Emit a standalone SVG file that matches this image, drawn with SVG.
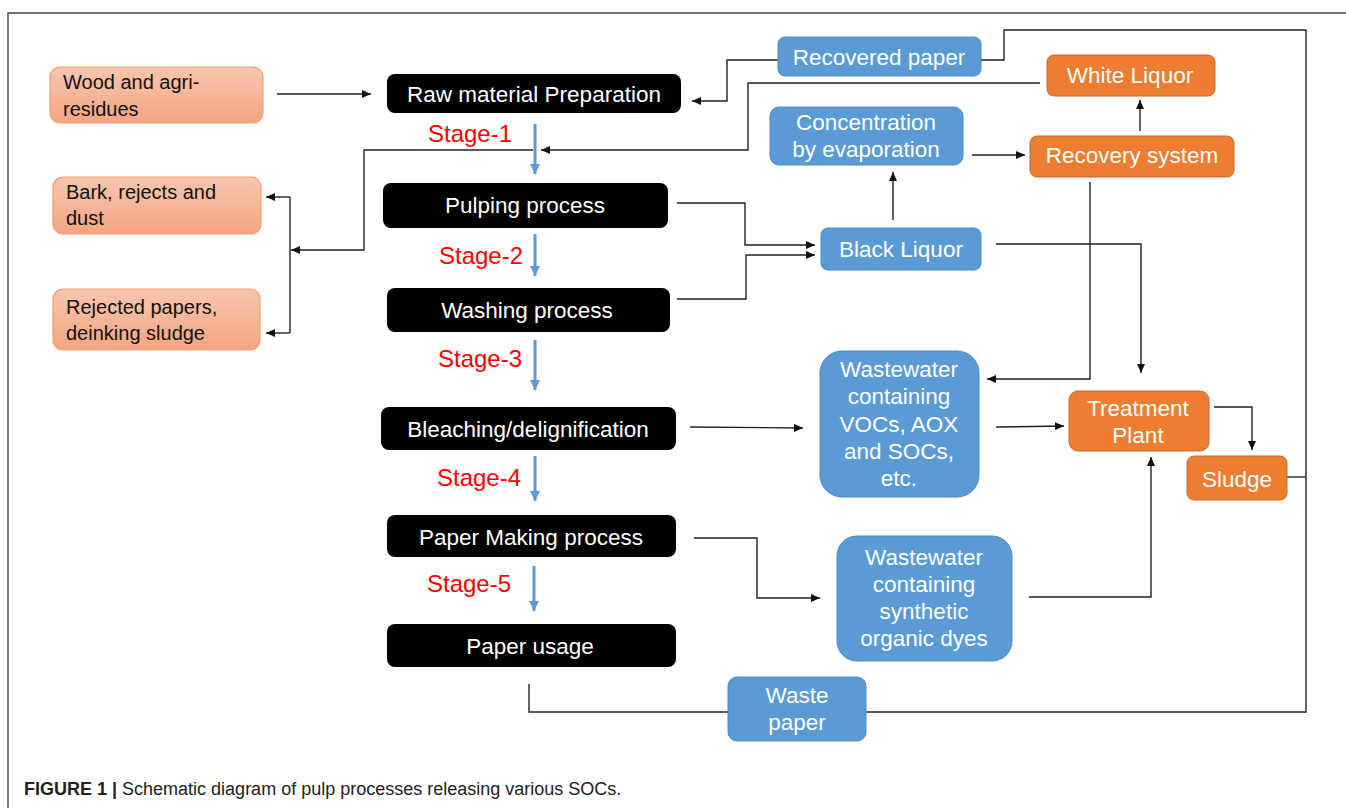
<svg xmlns="http://www.w3.org/2000/svg" width="1346" height="808" viewBox="0 0 1346 808">
<defs>
<linearGradient id="salmon" x1="0" y1="0" x2="0" y2="1">
<stop offset="0" stop-color="#f8c6ae"/>
<stop offset="1" stop-color="#f3a582"/>
</linearGradient>
<marker id="ah" markerUnits="userSpaceOnUse" markerWidth="10" markerHeight="8" refX="9" refY="4" orient="auto">
<path d="M0,0 L9,4 L0,8 Z" fill="#111"/>
</marker>
<marker id="bh" markerUnits="userSpaceOnUse" markerWidth="12" markerHeight="10" refX="10" refY="5" orient="auto">
<path d="M0,0 L10,5 L0,10 Z" fill="#5b9bd5"/>
</marker>
</defs>
<style>
.t{font-family:"Liberation Sans",Arial,sans-serif;}
.w{fill:#fff;text-anchor:middle;font-size:22.5px;}
.k{fill:#111;font-size:20px;}
.blk{fill:#000;}
.blue{fill:#5b9bd5;stroke:#4f89c0;stroke-width:1;}
.org{fill:#ed7d31;stroke:#c8692a;stroke-width:1;}
.sal{fill:url(#salmon);stroke:#f4a06c;stroke-width:1.2;}
.ln{fill:none;stroke:#222;stroke-width:1.4;}
.st{fill:none;stroke:#5b9bd5;stroke-width:3;}
.stg{fill:#ff0000;font-size:24px;}
</style>
<rect width="1346" height="808" fill="#fff"/>
<path d="M8,808 L8,13 L1346,13" fill="none" stroke="#444" stroke-width="1.4"/>

<g id="connectors">
<path class="ln" d="M277,94 L371,94" marker-end="url(#ah)"/>
<path class="ln" d="M779,60 L727,60 L727,101 L692,101" marker-end="url(#ah)"/>
<path class="ln" d="M980,60 L1004,60 L1004,30 L1306,30 L1306,712 L529,712 L529,684"/>
<path class="ln" d="M1287,477 L1306,477"/>
<path class="ln" d="M1040,83 L748,83 L748,150 L541,150" marker-end="url(#ah)"/>
<path class="ln" d="M533,150 L364,150 L364,250 L291,250" marker-end="url(#ah)"/>
<path class="ln" d="M290,197 L290,333"/>
<path class="ln" d="M290,197 L266,197" marker-end="url(#ah)"/>
<path class="ln" d="M290,333 L266,333" marker-end="url(#ah)"/>
<path class="ln" d="M972,155 L1025,155" marker-end="url(#ah)"/>
<path class="ln" d="M1140,131 L1140,100" marker-end="url(#ah)"/>
<path class="ln" d="M893,220 L893,172" marker-end="url(#ah)"/>
<path class="ln" d="M677,203 L745,203 L745,245 L815,245" marker-end="url(#ah)"/>
<path class="ln" d="M677,299 L746,299 L746,255 L815,255" marker-end="url(#ah)"/>
<path class="ln" d="M996,244 L1141,244 L1141,373" marker-end="url(#ah)"/>
<path class="ln" d="M1090,182 L1090,379 L987,379" marker-end="url(#ah)"/>
<path class="ln" d="M690,427 L803,428" marker-end="url(#ah)"/>
<path class="ln" d="M996,427 L1064,426" marker-end="url(#ah)"/>
<path class="ln" d="M1214,407 L1252,407 L1252,450" marker-end="url(#ah)"/>
<path class="ln" d="M694,538 L757,538 L757,598 L820,598" marker-end="url(#ah)"/>
<path class="ln" d="M1029,597 L1151,597 L1151,457" marker-end="url(#ah)"/>
<path class="st" d="M535,124 L535,174" marker-end="url(#bh)"/>
<path class="st" d="M535,234 L535,276" marker-end="url(#bh)"/>
<path class="st" d="M535,340 L535,390" marker-end="url(#bh)"/>
<path class="st" d="M535,456 L535,501" marker-end="url(#bh)"/>
<path class="st" d="M534,566 L534,611" marker-end="url(#bh)"/>
</g>

<g id="stage-labels" class="t stg">
<text x="428" y="142">Stage-1</text>
<text x="439" y="264">Stage-2</text>
<text x="438" y="367">Stage-3</text>
<text x="437" y="486">Stage-4</text>
<text x="427" y="592">Stage-5</text>
</g>

<g id="wood">
<rect class="sal" x="50" y="67" width="213" height="56" rx="10"/>
<text class="t k" x="63" y="89">Wood and agri-</text>
<text class="t k" x="63" y="116">residues</text>
</g>
<g id="bark">
<rect class="sal" x="53" y="177" width="208" height="57" rx="10"/>
<text class="t k" x="66" y="199">Bark, rejects and</text>
<text class="t k" x="66" y="225">dust</text>
</g>
<g id="rejected">
<rect class="sal" x="53" y="289" width="207" height="61" rx="10"/>
<text class="t k" x="66" y="314">Rejected papers,</text>
<text class="t k" x="66" y="340">deinking sludge</text>
</g>

<g id="raw">
<rect class="blk" x="387" y="74" width="294" height="39" rx="8"/>
<text class="t w" x="534" y="102">Raw material Preparation</text>
</g>
<g id="pulping">
<rect class="blk" x="383" y="183" width="285" height="45" rx="8"/>
<text class="t w" x="525" y="213">Pulping process</text>
</g>
<g id="washing">
<rect class="blk" x="387" y="288" width="283" height="44" rx="8"/>
<text class="t w" x="527" y="318">Washing process</text>
</g>
<g id="bleaching">
<rect class="blk" x="381" y="407" width="295" height="43" rx="8"/>
<text class="t w" x="528" y="437">Bleaching/delignification</text>
</g>
<g id="papermaking">
<rect class="blk" x="387" y="515" width="289" height="42" rx="8"/>
<text class="t w" x="531" y="545">Paper Making process</text>
</g>
<g id="paperusage">
<rect class="blk" x="387" y="624" width="289" height="43" rx="8"/>
<text class="t w" x="530" y="654">Paper usage</text>
</g>

<g id="recovered">
<rect class="blue" x="778" y="37" width="203" height="39" rx="7"/>
<text class="t w" x="879" y="65">Recovered paper</text>
</g>
<g id="whiteliquor">
<rect class="org" x="1047" y="55" width="168" height="41" rx="7"/>
<text class="t w" x="1130" y="83">White Liquor</text>
</g>
<g id="concentration">
<rect class="blue" x="770" y="107" width="193" height="58" rx="9"/>
<text class="t w" x="866" y="130">Concentration</text>
<text class="t w" x="866" y="157">by evaporation</text>
</g>
<g id="recovery">
<rect class="org" x="1030" y="136" width="204" height="41" rx="7"/>
<text class="t w" x="1132" y="163">Recovery system</text>
</g>
<g id="blackliquor">
<rect class="blue" x="821" y="228" width="160" height="42" rx="7"/>
<text class="t w" x="901" y="257">Black Liquor</text>
</g>
<g id="wastewater1">
<rect class="blue" x="820" y="351" width="159" height="146" rx="22"/>
<text class="t w" x="899" y="377">Wastewater</text>
<text class="t w" x="899" y="404">containing</text>
<text class="t w" x="899" y="432">VOCs, AOX</text>
<text class="t w" x="899" y="459">and SOCs,</text>
<text class="t w" x="899" y="486">etc.</text>
</g>
<g id="treatment">
<rect class="org" x="1069" y="391" width="140" height="60" rx="9"/>
<text class="t w" x="1138" y="416">Treatment</text>
<text class="t w" x="1138" y="443">Plant</text>
</g>
<g id="sludge">
<rect class="org" x="1187" y="456" width="100" height="44" rx="7"/>
<text class="t w" x="1237" y="487">Sludge</text>
</g>
<g id="wastewater2">
<rect class="blue" x="837" y="536" width="175" height="125" rx="20"/>
<text class="t w" x="924" y="565">Wastewater</text>
<text class="t w" x="924" y="592">containing</text>
<text class="t w" x="924" y="619">synthetic</text>
<text class="t w" x="924" y="646">organic dyes</text>
</g>
<g id="wastepaper">
<rect class="blue" x="728" y="677" width="138" height="64" rx="9"/>
<text class="t w" x="797" y="703">Waste</text>
<text class="t w" x="797" y="730">paper</text>
</g>

<g id="caption">
<text class="t" font-size="18" x="24" y="795" fill="#222"><tspan font-weight="bold">FIGURE 1 |</tspan> Schematic diagram of pulp processes releasing various SOCs.</text>
</g>
</svg>
